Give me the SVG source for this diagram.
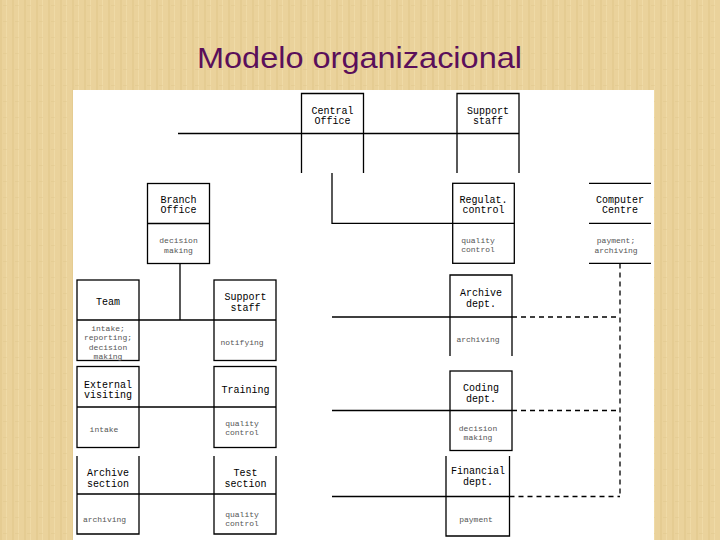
<svg xmlns="http://www.w3.org/2000/svg" width="720" height="540" viewBox="0 0 720 540">
<style>
.box{fill:none;stroke:#000;stroke-width:1.3}
.ln{fill:none;stroke:#000;stroke-width:1.3}
.dash{fill:none;stroke:#000;stroke-width:1.3;stroke-dasharray:5 4}
.h{font-size:10px;fill:#000;text-anchor:middle}
.c{font-size:8px;fill:#555;text-anchor:middle}
.title{font-family:'Liberation Sans',sans-serif;font-size:30px;fill:#5a0f5a}
</style>
<defs>
<pattern id="tex" width="12" height="16" patternUnits="userSpaceOnUse">
<rect width="12" height="16" fill="#ead29b"/>
<rect x="0" width="2" height="16" fill="#e0c68b" opacity="0.55"/>
<rect x="6" width="1" height="16" fill="#f2ddac" opacity="0.7"/>
<rect x="3" y="5" width="4" height="1" fill="#dcc184" opacity="0.3"/>
</pattern>
</defs>
<rect width="720" height="540" fill="url(#tex)"/>
<text class="title" x="197" y="68" textLength="325" lengthAdjust="spacingAndGlyphs">Modelo organizacional</text>
<rect x="73" y="90" width="581" height="450" fill="#fff"/>

<g id="connectors">
<path class="ln" d="M178,133.5 H301.5 M363.5,133.5 H457"/>
<path class="ln" d="M332,173 V223.3 H452.7"/>
<path class="ln" d="M180,263.5 V320 M139,320 H214"/>
<path class="ln" d="M139,407 H214 M139,494 H214"/>
<path class="ln" d="M332,317 H450 M332,410.5 H450 M332,496.5 H446"/>
<path class="dash" d="M512,317 H620 M512,410.5 H620 M509.5,496.5 H620 M620,263.5 V496.5"/>
</g>

<g font-family="'Courier New','Liberation Mono','DejaVu Sans Mono',monospace">
<g id="central-office">
<path class="box" d="M301.5,173 V93.5 H363.5 V173 M301.5,133.5 H363.5"/>
<text class="h" x="332.5" y="113.5">Central</text>
<text class="h" x="332.5" y="124">Office</text>
</g>
<g id="support-staff-top">
<path class="box" d="M457,173 V93.5 H519 V173 M457,133.5 H519"/>
<text class="h" x="488" y="113.5">Support</text>
<text class="h" x="488" y="124">staff</text>
</g>
<g id="branch-office">
<rect class="box" x="147.5" y="183.5" width="62" height="80"/>
<path class="ln" d="M147.5,223.5 H209.5"/>
<text class="h" x="178.5" y="202.5">Branch</text>
<text class="h" x="178.5" y="212.5">Office</text>
<text class="c" x="178.5" y="243">decision</text>
<text class="c" x="178.5" y="252.5">making</text>
</g>
<g id="regulat-control">
<rect class="box" x="452.7" y="183.3" width="61.6" height="80"/>
<path class="ln" d="M452.7,223.3 H514.3"/>
<text class="h" x="483.5" y="202.5">Regulat.</text>
<text class="h" x="483.5" y="212.5">control</text>
<text class="c" x="478" y="243">quality</text>
<text class="c" x="478" y="252">control</text>
</g>
<g id="computer-centre">
<path class="ln" d="M589,183.3 H651 M589,223.3 H651 M589,263.3 H651"/>
<text class="h" x="620" y="203">Computer</text>
<text class="h" x="620" y="213">Centre</text>
<text class="c" x="616" y="243">payment;</text>
<text class="c" x="616" y="252.5">archiving</text>
</g>
<g id="team">
<rect class="box" x="77" y="280" width="62" height="80.5"/>
<path class="ln" d="M77,320 H139"/>
<text class="h" x="108" y="305">Team</text>
<text class="c" x="108" y="331">intake;</text>
<text class="c" x="108" y="340.3">reporting;</text>
<text class="c" x="108" y="349.6">decision</text>
<text class="c" x="108" y="358.5">making</text>
</g>
<g id="support-staff-left">
<rect class="box" x="214" y="280" width="62" height="80.5"/>
<path class="ln" d="M214,320 H276"/>
<text class="h" x="245.5" y="300">Support</text>
<text class="h" x="245.5" y="310.5">staff</text>
<text class="c" x="242" y="344.5">notifying</text>
</g>
<g id="external-visiting">
<rect class="box" x="77" y="366.5" width="62" height="81"/>
<path class="ln" d="M77,407 H139"/>
<text class="h" x="108" y="387.5">External</text>
<text class="h" x="108" y="397.5">visiting</text>
<text class="c" x="104" y="432">intake</text>
</g>
<g id="training">
<rect class="box" x="214" y="366.5" width="62" height="81"/>
<path class="ln" d="M214,407 H276"/>
<text class="h" x="245.5" y="392.5">Training</text>
<text class="c" x="242" y="425.5">quality</text>
<text class="c" x="242" y="434.5">control</text>
</g>
<g id="archive-section">
<path class="box" d="M77,456 V534 H139 V456 M77,494 H139"/>
<text class="h" x="108" y="476">Archive</text>
<text class="h" x="108" y="487">section</text>
<text class="c" x="104.5" y="522">archiving</text>
</g>
<g id="test-section">
<path class="box" d="M214,456 V534 H276 V456 M214,494 H276"/>
<text class="h" x="245.5" y="476">Test</text>
<text class="h" x="245.5" y="487">section</text>
<text class="c" x="242" y="517">quality</text>
<text class="c" x="242" y="526">control</text>
</g>
<g id="archive-dept">
<path class="box" d="M450,356 V275 H512 V356 M450,317 H512"/>
<text class="h" x="481" y="296">Archive</text>
<text class="h" x="481" y="306.5">dept.</text>
<text class="c" x="478" y="342">archiving</text>
</g>
<g id="coding-dept">
<rect class="box" x="450" y="371" width="62" height="79.5"/>
<path class="ln" d="M450,410.5 H512"/>
<text class="h" x="481" y="391">Coding</text>
<text class="h" x="481" y="401.5">dept.</text>
<text class="c" x="478" y="430.5">decision</text>
<text class="c" x="478" y="439.5">making</text>
</g>
<g id="financial-dept">
<path class="box" d="M446,456 V536 H509.5 V456 M446,496.5 H509.5"/>
<text class="h" x="478" y="473.5">Financial</text>
<text class="h" x="478" y="484.5">dept.</text>
<text class="c" x="476" y="522">payment</text>
</g>
</g>
</svg>
